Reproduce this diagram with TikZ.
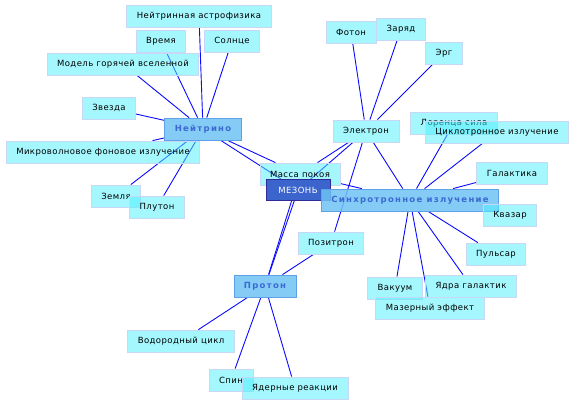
\documentclass[tikz,border=0pt]{standalone}
\usepackage{fontspec}
\setmainfont{DejaVu Sans}[LetterSpace=5]
\newfontfamily\hubfont{DejaVu Sans}[LetterSpace=15]
\usetikzlibrary{backgrounds}
\definecolor{leaffill}{RGB}{80,240,252}
\definecolor{leafdraw}{RGB}{200,215,245}
\definecolor{hubfill}{RGB}{110,195,245}
\definecolor{hubdraw}{RGB}{95,160,230}
\definecolor{hubtext}{RGB}{60,105,210}
\definecolor{mezonfill}{RGB}{60,100,205}
\definecolor{mezondraw}{RGB}{50,40,150}
\definecolor{linkblue}{RGB}{10,10,255}

\begin{document}
\begin{tikzpicture}[x=1pt, y=-1pt,
    every node/.style={font=\fontsize{8.5}{10}\selectfont, minimum height=22pt, inner xsep=10pt, inner ysep=0pt},
    leaf/.style={fill=leaffill, fill opacity=0.52, text opacity=1, draw=leafdraw, line width=0.8pt},
    hub/.style={fill=hubfill, fill opacity=0.85, text opacity=1, draw=hubdraw, line width=0.8pt,
                text=hubtext, font=\hubfont\bfseries\fontsize{8.5}{10}\selectfont},
    mezonbox/.style={fill=mezonfill, draw=mezondraw, line width=1pt, text=white},
    link/.style={linkblue, line width=0.9pt}]
  \useasboundingbox (0,0) rectangle (576,405);
  % leaves round the neutrino
  \node[leaf] (astro) at (199,16) {Нейтринная астрофизика};
  \node[leaf] (vremya) at (161,41) {Время};
  \node[leaf] (solnce) at (232,41) {Солнце};
  \node[leaf] (model) at (123,64) {Модель горячей вселенной};
  \node[leaf] (zvezda) at (109,108) {Звезда};
  \node[leaf] (mikro) at (103,152) {Микроволновое фоновое излучение};
  \node[leaf] (zemlya) at (116,196) {Земля};
  \node[leaf] (pluton) at (157,207) {Плутон};
  % leaves round the electron
  \node[leaf] (foton) at (351,32) {Фотон};
  \node[leaf] (zaryad) at (401,29) {Заряд};
  \node[leaf] (erg) at (444,53) {Эрг};
  \node[leaf] (lorenc) at (454,123) {Лоренца сила};
  \node[leaf] (ciklo) at (497,132) {Циклотронное излучение};
  \node[leaf] (galaktika) at (512,173) {Галактика};
  \node[leaf] (massa) at (300,174) {Масса покоя};
  \node[leaf] (pozitron) at (331,243) {Позитрон};
  \node[leaf] (pulsar) at (496,254) {Пульсар};
  \node[leaf] (vakuum) at (395,288) {Вакуум};
  \node[leaf] (yadra) at (471,286) {Ядра галактик};
  \node[leaf] (mazer) at (430,308) {Мазерный эффект};
  \node[leaf] (vodorod) at (181,341) {Водородный цикл};
  \node[leaf] (spin) at (231,380) {Спин};
  \node[leaf] (reakcii) at (295,388) {Ядерные реакции};
  % hubs
  \node[mezonbox, minimum width=64pt, minimum height=21pt] (mezon) at (298,190) {МЕЗОНЬ};
  \node[hub] (neutrino) at (203,129) {Нейтрино};
  \node[leaf] (elektron) at (366,131) {Электрон};
  \node[hub] (sinhro) at (410,200) {Синхротронное излучение};
  \node[leaf] (kvazar) at (510,215) {Квазар};
  \node[hub] (proton) at (265,286) {Протон};
  \begin{scope}[on background layer]
    \foreach \n in {astro,vremya,solnce,model,zvezda,mikro,zemlya,pluton,massa,mezon}
      \draw[link] (neutrino) -- (\n);
    \foreach \n in {foton,zaryad,erg,massa,mezon,pozitron,sinhro}
      \draw[link] (elektron) -- (\n);
    \foreach \n in {lorenc,ciklo,galaktika,kvazar,pulsar,yadra,mazer,vakuum,massa}
      \draw[link] (sinhro) -- (\n);
    \foreach \n in {massa,mezon,pozitron,vodorod,spin,reakcii}
      \draw[link] (proton) -- (\n);
  \end{scope}
\end{tikzpicture}
\end{document}
